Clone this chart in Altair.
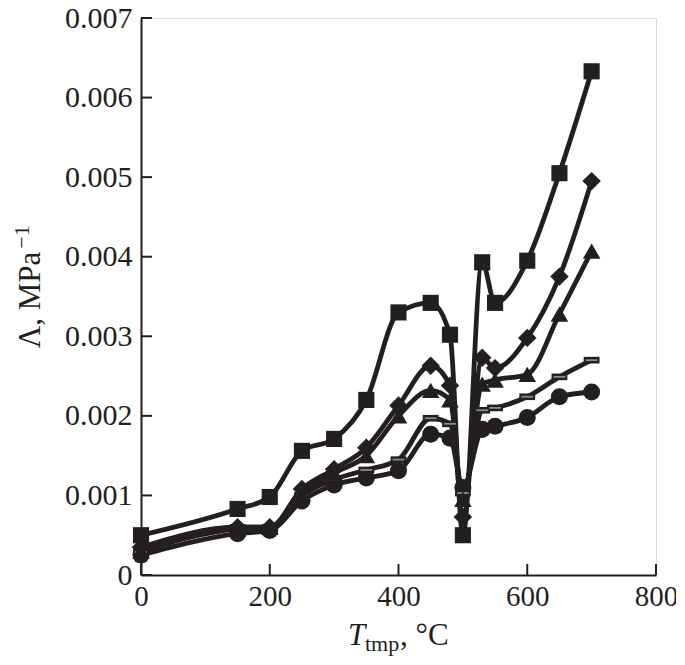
import altair as alt
import pandas as pd

temps = [0, 150, 200, 250, 300, 350, 400, 450, 480, 500, 530, 550, 600, 650, 700]
squares = [0.00050, 0.00083, 0.00098, 0.00156, 0.00171, 0.00220, 0.00330, 0.00342, 0.00302, 0.00050, 0.00393, 0.00342, 0.00395, 0.00505, 0.00633]
diamonds = [0.00035, 0.00060, 0.00060, 0.00108, 0.00133, 0.00160, 0.00213, 0.00263, 0.00238, 0.00073, 0.00273, 0.00260, 0.00298, 0.00375, 0.00495]
triangles = [0.00030, 0.00058, 0.00060, 0.00103, 0.00128, 0.00150, 0.00200, 0.00232, 0.00220, 0.00095, 0.00240, 0.00245, 0.00252, 0.00328, 0.00407]
dashes = [0.00029, 0.00060, 0.00060, 0.00100, 0.00120, 0.00132, 0.00145, 0.00197, 0.00190, 0.00103, 0.00207, 0.00210, 0.00224, 0.00249, 0.00270]
circles = [0.00025, 0.00052, 0.00056, 0.00093, 0.00113, 0.00122, 0.00131, 0.00177, 0.00172, 0.00110, 0.00183, 0.00187, 0.00198, 0.00224, 0.00230]

x_ticks = [0, 200, 400, 600, 800]
y_ticks = [0, 0.001, 0.002, 0.003, 0.004, 0.005, 0.006, 0.007]

INK = "#231f20"
FONT = "Liberation Serif"
W, H = 515, 557
FS = 30

series = {"sq": squares, "di": diamonds, "tr": triangles, "da": dashes, "ci": circles}
rows = []
for name, vals in series.items():
    for t, v in zip(temps, vals):
        rows.append({"T": t, "L": v, "s": name})
df = pd.DataFrame(rows)

xs = alt.Scale(domain=[0, 800], nice=False, zero=False)
ys = alt.Scale(domain=[0, 0.007], nice=False)

xenc = alt.X("T:Q", scale=xs, axis=alt.Axis(
    values=x_ticks, ticks=False, grid=False, domainColor=INK, domainWidth=2,
    labelFont=FONT, labelFontSize=29, labelColor=INK, labelPadding=7, title=None,
    labelFlush=False))
yenc = alt.Y("L:Q", scale=ys, axis=alt.Axis(
    values=y_ticks, ticks=False, grid=False, domainColor=INK, domainWidth=2,
    labelFont=FONT, labelFontSize=FS, labelColor=INK, labelPadding=9, title=None,
    labelExpr="datum.value == 0 ? '0' : format(datum.value, '.3f')", labelFlush=False))

base = alt.Chart(df)

lines = base.mark_line(interpolate="monotone", strokeWidth=4.8, color=INK).encode(
    x=xenc, y=yenc, detail="s:N")

def pts(name, shape, size):
    return alt.Chart(df[df.s == name]).mark_point(
        shape=shape, size=size, filled=True, color=INK, opacity=1, strokeWidth=0
    ).encode(x=alt.X("T:Q", scale=xs), y=alt.Y("L:Q", scale=ys))

p_sq = pts("sq", "square", 260)
p_di = pts("di", "diamond", 340)
p_tr = pts("tr", "triangle-up", 310)
p_ci = pts("ci", "circle", 290)
p_da = pts("da", "M-1,-0.42 L1,-0.42 L1,0.42 L-1,0.42 Z", 250)
p_da_in = alt.Chart(df[df.s == "da"]).mark_point(
    shape="stroke", size=140, color="#8a8a8a", strokeWidth=1.8, opacity=1
).encode(x=alt.X("T:Q", scale=xs), y=alt.Y("L:Q", scale=ys))

xt = alt.Chart(pd.DataFrame({"T": x_ticks})).mark_rule(color=INK, strokeWidth=2).encode(
    x=alt.X("T:Q", scale=xs), y=alt.value(H), y2=alt.value(H - 11))
yt = alt.Chart(pd.DataFrame({"L": y_ticks})).mark_rule(color=INK, strokeWidth=2).encode(
    y=alt.Y("L:Q", scale=ys), x=alt.value(0), x2=alt.value(11))

def txt(s, x, y, size, **kw):
    return alt.Chart(pd.DataFrame({"t": [s]})).mark_text(
        font=FONT, fontSize=size, color=INK, **kw
    ).encode(text="t:N", x=alt.value(x), y=alt.value(y))

t_T = txt("T", 207, 627, 31, align="left", baseline="alphabetic", fontStyle="italic")
t_sub = txt("tmp", 224, 633, 22, align="left", baseline="alphabetic")
t_C = txt(", °C", 259, 627, 31, align="left", baseline="alphabetic")

y_main = txt("Λ, MPa", -110, 282, 31, align="center", baseline="middle", angle=270)
y_sup = txt("−1", -119, 219, 22, align="center", baseline="middle", angle=270)

chart = alt.layer(
    lines, xt, yt, p_ci, p_da, p_da_in, p_tr, p_di, p_sq,
    t_T, t_sub, t_C, y_main, y_sup
).properties(
    width=W, height=H,
    autosize=alt.AutoSizeParams(type="none"),
    padding={"left": 133, "top": 10, "right": 20, "bottom": 82},
).configure_view(stroke=None).configure(background="white")

chart.save("out.html", embed_options={"renderer": "svg", "actions": False})
